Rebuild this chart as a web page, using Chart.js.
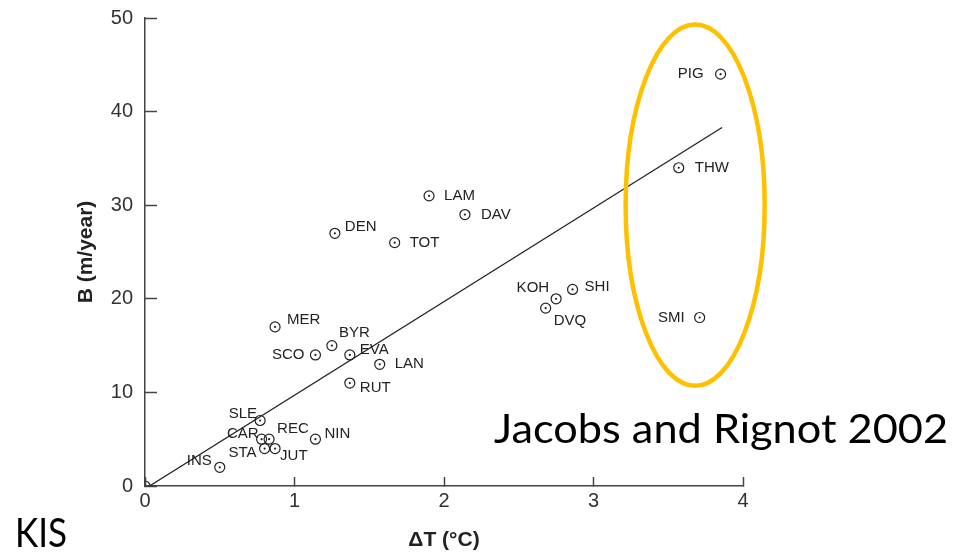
<!DOCTYPE html>
<html>
<head>
<meta charset="utf-8">
<script src="https://cdn.jsdelivr.net/npm/chart.js@4/dist/chart.umd.min.js"></script>
<style>
  html, body { margin: 0; padding: 0; background: #ffffff; }
  #wrap { width: 953px; height: 553px; position: relative; }
</style>
</head>
<body>
<div id="wrap"><canvas id="c" width="953" height="553"></canvas></div>
<script>
// ---- data ----
const glaciers = ['PIG','THW','SMI','LAM','DAV','DEN','TOT','KOH','SHI','DVQ','MER','BYR','SCO','EVA','LAN','RUT','SLE','CAR','REC','NIN','STA','JUT','INS','KIS'];
const deltaT   = [3.85, 3.57, 3.71, 1.90, 2.14, 1.27, 1.67, 2.75, 2.86, 2.68, 0.87, 1.25, 1.14, 1.37, 1.57, 1.37, 0.77, 0.78, 0.83, 1.14, 0.80, 0.87, 0.50, 0.00];
const meltB    = [44, 34, 18, 31, 29, 27, 26, 20, 21, 19, 17, 15, 14, 14, 13, 11, 7, 5, 5, 5, 4, 4, 2, 0];
const fitT     = [0.03, 3.86];
const fitB     = [0, 38.3];
const xTicks   = [0, 1, 2, 3, 4];
const yTicks   = [0, 10, 20, 30, 40, 50];
const noteText = 'Jacobs and Rignot 2002';
const cornerText = 'KIS';
const xTitle = '\u0394T (\u00B0C)';
const yTitle = 'B (m/year)';

// ---- label placement (styling, separate from data) ----
const labelPlace = {
  PIG:[-17,0,'right'], THW:[16,0,'left'], SMI:[-15,0,'right'], LAM:[15,0,'left'],
  DAV:[16,0,'left'], DEN:[10,-6,'left'], TOT:[15,0,'left'], KOH:[-7,-11,'right'],
  SHI:[12,-3,'left'], DVQ:[8,13,'left'], MER:[12,-7,'left'], BYR:[7,-13,'left'],
  SCO:[-11,0,'right'], EVA:[10,-5,'left'], LAN:[15,0,'left'], RUT:[10,5,'left'],
  SLE:[-3,-7,'right'], CAR:[-3,-5,'right'], REC:[8,-10,'left'], NIN:[9,-5,'left'],
  STA:[-8,4,'right'], JUT:[5,7,'left'], INS:[-8,-6,'right']
};
// highlight ellipse in data units
const ellipse = { cx: 3.68, cy: 30.0, rx: 0.465, ry: 19.3 };

const pts = deltaT.map((t, i) => ({ x: t, y: meltB[i] }));
const fit = fitT.map((t, i) => ({ x: t, y: fitB[i] }));

Chart.defaults.font.family = "'Liberation Sans', Arial, sans-serif";
Chart.defaults.color = '#333';

const overlay = {
  id: 'overlay',
  afterDatasetsDraw(chart) {
    const ctx = chart.ctx;
    const meta = chart.getDatasetMeta(0);
    ctx.save();
    ctx.font = "15px 'Liberation Sans', Arial, sans-serif";
    ctx.fillStyle = '#222';
    ctx.textBaseline = 'middle';
    meta.data.forEach((el, i) => {
      const p = labelPlace[glaciers[i]];
      if (!p) return;
      ctx.textAlign = p[2];
      ctx.fillText(glaciers[i], el.x + p[0], el.y + p[1]);
    });
    // ellipse
    const xs = chart.scales.x, ys = chart.scales.y;
    const cx = xs.getPixelForValue(ellipse.cx), cy = ys.getPixelForValue(ellipse.cy);
    const rx = Math.abs(xs.getPixelForValue(ellipse.cx + ellipse.rx) - cx);
    const ry = Math.abs(ys.getPixelForValue(ellipse.cy + ellipse.ry) - cy);
    ctx.beginPath();
    ctx.ellipse(cx, cy, rx, ry, 0, 0, Math.PI * 2);
    ctx.strokeStyle = '#FFC000';
    ctx.lineWidth = 4.5;
    ctx.stroke();
    // slide annotations
    ctx.fillStyle = '#000';
    ctx.textAlign = 'left';
    ctx.textBaseline = 'alphabetic';
    ctx.font = "40px Lato, 'Open Sans', sans-serif";
    let w = ctx.measureText(noteText).width;
    ctx.save();
    ctx.translate(494, 443);
    ctx.scale(454 / w, 1);
    ctx.fillText(noteText, 0, 0);
    ctx.restore();
    w = ctx.measureText(cornerText).width;
    ctx.save();
    ctx.translate(15, 547);
    ctx.scale(52 / w, 1);
    ctx.fillText(cornerText, 0, 0);
    ctx.restore();
    ctx.restore();
  }
};

new Chart(document.getElementById('c'), {
  type: 'scatter',
  data: {
    datasets: [
      { data: pts, pointRadius: 5, pointHoverRadius: 5, pointBorderWidth: 1.2,
        pointBorderColor: '#222', pointBackgroundColor: 'rgba(0,0,0,0)', clip: 0, order: 2 },
      { data: pts, pointRadius: 1.1, pointHoverRadius: 1.1, pointBorderWidth: 0,
        pointBackgroundColor: '#222', clip: 0, order: 2 },
      { type: 'line', data: fit, borderColor: '#222', borderWidth: 1.3, pointRadius: 0,
        fill: false, order: 1 }
    ]
  },
  options: {
    responsive: false,
    animation: false,
    events: [],
    layout: { padding: { left: 0, right: 210, top: 18, bottom: 0 } },
    plugins: { legend: { display: false }, tooltip: { enabled: false } },
    scales: {
      x: {
        type: 'linear', min: 0, max: 4,
        afterBuildTicks: s => { s.ticks = xTicks.map(v => ({ value: v })); },
        afterFit: s => { s.height = 67; s.paddingLeft = 0; s.paddingRight = 0; },
        grid: { drawOnChartArea: false, tickLength: -9, tickWidth: 1.5, tickColor: '#444' },
        border: { color: '#444', width: 1.5 },
        ticks: { font: { size: 20 }, color: '#333', padding: 12, maxRotation: 0 },
        title: { display: true, text: xTitle, font: { size: 21, weight: 'bold' }, color: '#222', padding: { top: 4, bottom: 0 } }
      },
      y: {
        type: 'linear', min: 0, max: 50,
        afterBuildTicks: s => { s.ticks = yTicks.map(v => ({ value: v })); },
        afterFit: s => { s.width = 145; s.paddingTop = 0; s.paddingBottom = 0; },
        grid: { drawOnChartArea: false, tickLength: -12, tickWidth: 1.5, tickColor: '#444' },
        border: { color: '#444', width: 1.5 },
        ticks: { font: { size: 20 }, color: '#333', padding: 24 },
        title: { display: true, text: yTitle, font: { size: 21, weight: 'bold' }, color: '#222', padding: { top: 74, bottom: 0 } }
      }
    }
  },
  plugins: [overlay]
});
</script>
</body>
</html>
